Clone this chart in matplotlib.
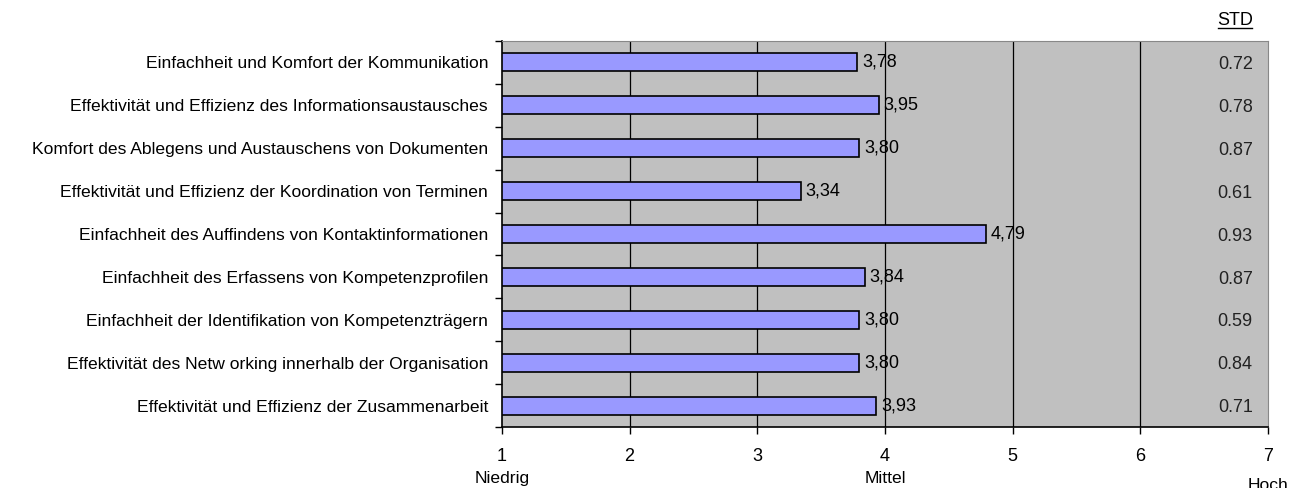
import matplotlib.pyplot as plt
from matplotlib.lines import Line2D

plt.rcParams['font.family'] = ['Liberation Sans', 'DejaVu Sans']

# items from top to bottom
items = ['Einfachheit und Komfort der Kommunikation',
         'Effektivität und Effizienz des Informationsaustausches',
         'Komfort des Ablegens und Austauschens von Dokumenten',
         'Effektivität und Effizienz der Koordination von Terminen',
         'Einfachheit des Auffindens von Kontaktinformationen',
         'Einfachheit des Erfassens von Kompetenzprofilen',
         'Einfachheit der Identifikation von Kompetenzträgern',
         'Effektivität des Netw orking innerhalb der Organisation',
         'Effektivität und Effizienz der Zusammenarbeit']
means = [3.78, 3.95, 3.80, 3.34, 4.79, 3.84, 3.80, 3.80, 3.93]
stds = [0.72, 0.78, 0.87, 0.61, 0.93, 0.87, 0.59, 0.84, 0.71]
scale_ticks = [1, 2, 3, 4, 5, 6, 7]
scale_words = {1: 'Niedrig', 4: 'Mittel', 7: 'Hoch'}

fs = 12.6   # category labels
fs_num = 13  # numbers

fig = plt.figure(figsize=(12.96, 4.88), dpi=100)
ax = fig.add_axes([0.3873, 0.125, 0.5911, 0.791])
ax.set_facecolor('#c0c0c0')

n = len(items)
ypos = [n - 1 - i for i in range(n)]
ax.barh(ypos, [m - 1 for m in means], left=1, height=0.42,
        color='#9999ff', edgecolor='black', linewidth=1.2, zorder=3)

for y, m, s in zip(ypos, means, stds):
    ax.text(m + 0.04, y, f'{m:.2f}'.replace('.', ','), fontsize=fs_num,
            va='center', ha='left', zorder=4)
    ax.text(6.88, y - 0.05, f'{s:.2f}', fontsize=fs_num, va='center', ha='right',
            color='#222222', zorder=4)

ax.text(6.88, n - 0.5 + 0.47, 'STD', fontsize=fs_num, ha='right', va='center',
        clip_on=False)
fig.lines.append(Line2D([1218 / 1296, 1252 / 1296], [1 - 28 / 488, 1 - 28 / 488],
                        color='black', linewidth=1.0, transform=fig.transFigure))

ax.set_xlim(1, 7)
ax.set_ylim(-0.5, n - 0.5)
ax.set_xticks(scale_ticks)
ax.set_xticklabels([str(t) for t in scale_ticks], fontsize=fs_num)
for t in scale_ticks[1:-1]:
    ax.axvline(t, color='black', linewidth=0.9, zorder=1)

ax.set_yticks(ypos)
ax.set_yticklabels(items, fontsize=fs)
ax.tick_params(axis='y', length=0, pad=10)
ax.set_yticks([y + 0.5 for y in range(-1, n)], minor=True)
ax.tick_params(axis='y', which='minor', length=5, width=1, color='black')
ax.tick_params(axis='x', length=5, width=1, pad=10)

for side in ['top', 'right']:
    ax.spines[side].set_color('#888888')
for side in ['left', 'bottom']:
    ax.spines[side].set_color('black')
    ax.spines[side].set_linewidth(1.2)

for t, w in scale_words.items():
    dy = -0.152 if t == 7 else -0.133
    ax.text(t, dy, w, fontsize=fs, ha='center', va='center',
            transform=ax.get_xaxis_transform())

fig.savefig('out.png', dpi=100)
